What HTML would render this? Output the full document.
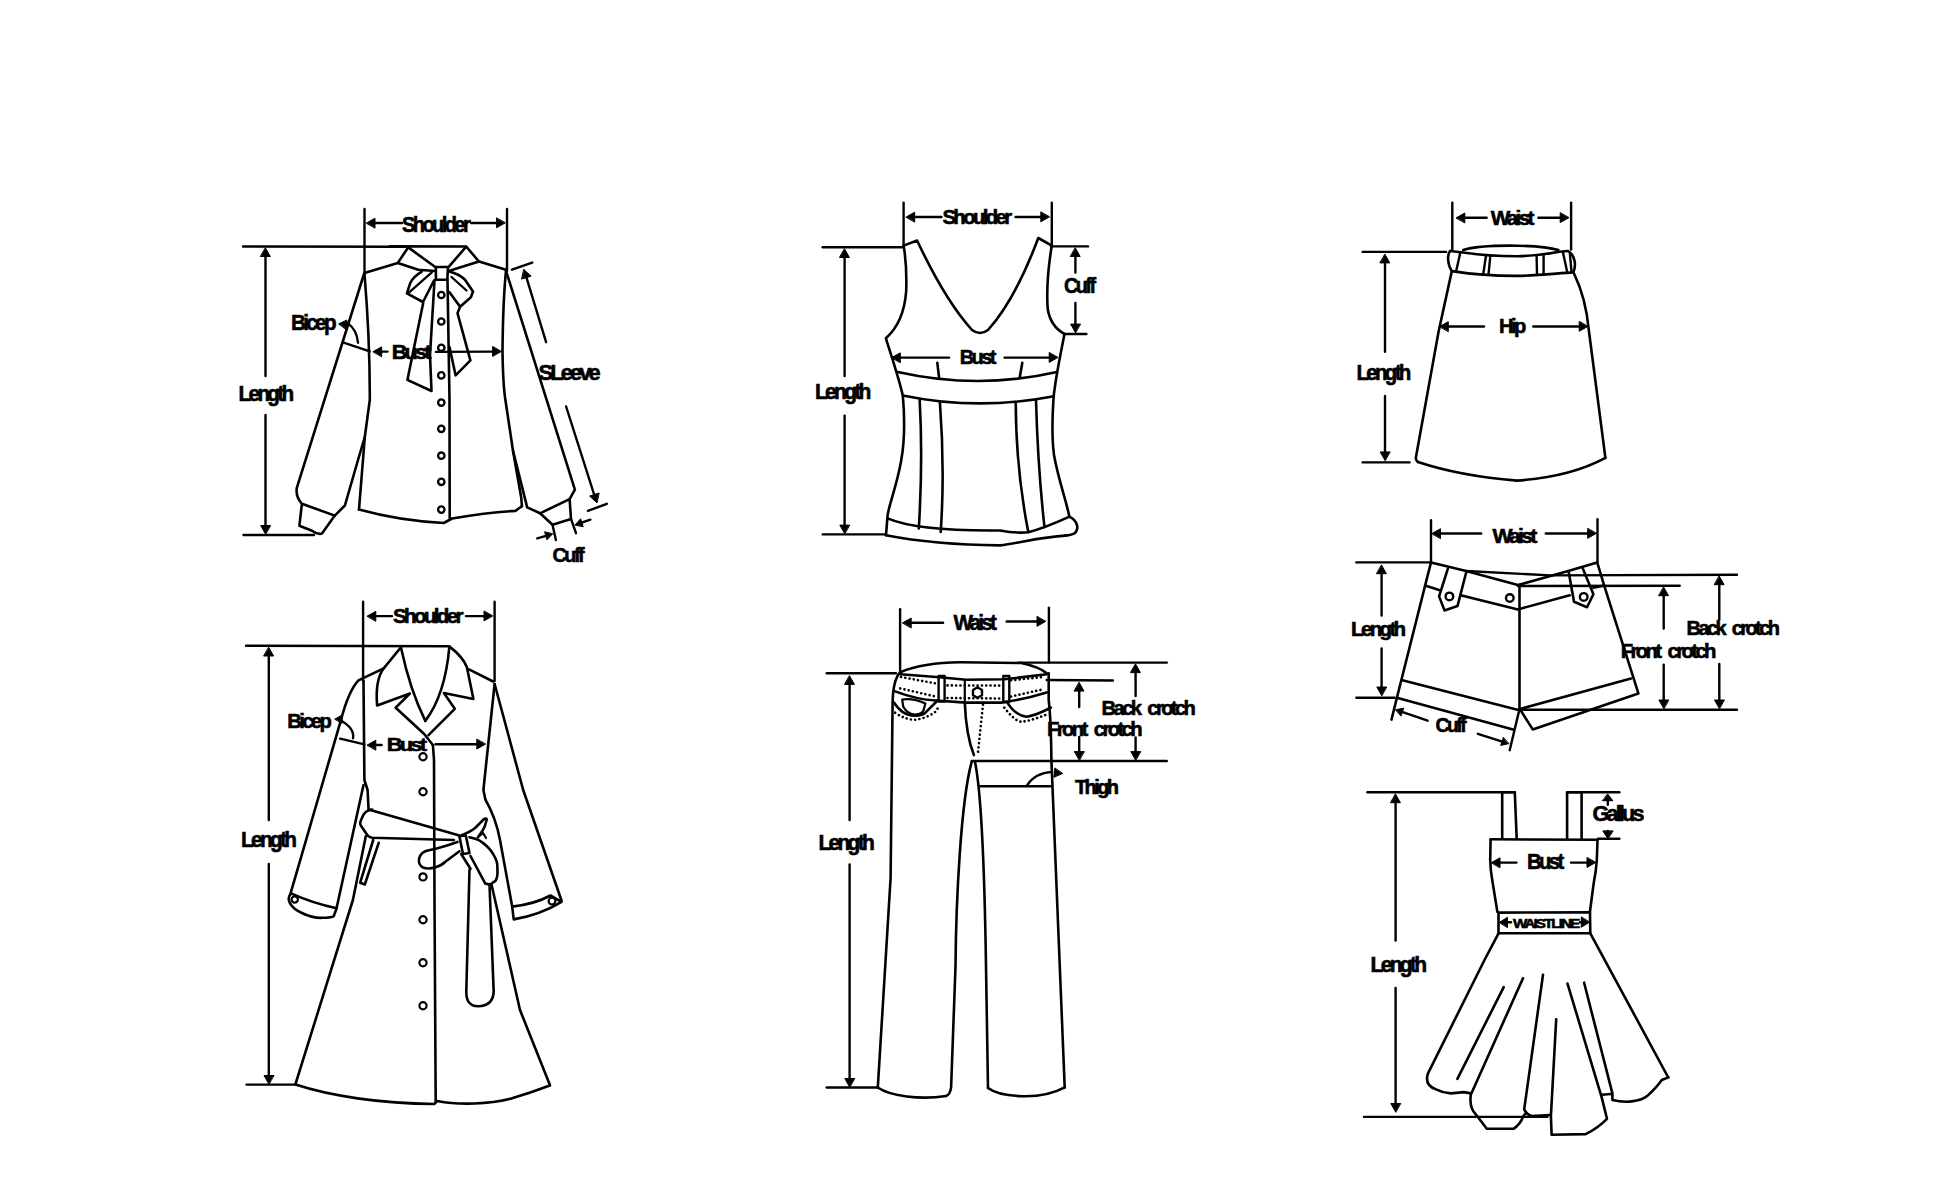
<!DOCTYPE html>
<html><head><meta charset="utf-8"><style>
html,body{margin:0;padding:0;background:#fff;width:1946px;height:1187px;overflow:hidden}
svg{display:block}
path,circle{fill:none;stroke:#000;stroke-linecap:round;stroke-linejoin:round}
path.f{fill:#000;stroke:#000;stroke-width:1}
text{font-family:"Liberation Sans",sans-serif;font-weight:bold;fill:#000}
</style></head><body>
<svg width="1946" height="1187" viewBox="0 0 1946 1187">
<path d="M364.5,209L364.5,273" stroke-width="2.4"/>
<path d="M507,209L507,271" stroke-width="2.4"/>
<path d="M402,223L371.6,223.0" stroke-width="2.4"/>
<path class="f" d="M366.5,223.0L375.0,218.2L375.0,227.8Z"/>
<path d="M471,223L499.9,223.0" stroke-width="2.4"/>
<path class="f" d="M505.0,223.0L496.5,227.8L496.5,218.2Z"/>
<text x="402.00" y="231.5" font-size="22.5" letter-spacing="-2.92" textLength="66.12" lengthAdjust="spacingAndGlyphs" stroke="#000" stroke-width="0.6">Shoulder</text>
<path d="M243,246.5L405,246.8" stroke-width="2.4"/>
<path d="M265.5,376L265.5,253.1" stroke-width="2.4"/>
<path class="f" d="M265.5,248.0L270.3,256.5L260.7,256.5Z"/>
<path d="M265.5,415L265.5,528.9" stroke-width="2.4"/>
<path class="f" d="M265.5,534.0L260.7,525.5L270.3,525.5Z"/>
<path d="M243.5,535L314,535" stroke-width="2.4"/>
<text x="238.60" y="401.0" font-size="21.8" letter-spacing="-2.83" textLength="52.89" lengthAdjust="spacingAndGlyphs" stroke="#000" stroke-width="0.6">Length</text>
<path d="M390,246.4 L466.2,246.5 L479,261.6 L506,269.7" stroke-width="2.6"/>
<path d="M408.2,247.4 L397.8,262.9 L364.5,273" stroke-width="2.6"/>
<path d="M408.2,247.4 L435.9,267.5" stroke-width="2.6"/>
<path d="M466.2,246.7 L448.7,266.8" stroke-width="2.6"/>
<path d="M435.9,267 L448,267 L447.3,279.8 L435.9,279.8 Z" stroke-width="2.6"/>
<path d="M397.8,262.9 L418.3,269.7 L435,271" stroke-width="2.6"/>
<path d="M479,261.6 L457.4,268.3 L449,271" stroke-width="2.6"/>
<path d="M421.7,271.7 Q413,277 410.2,283.2 L406.9,293.3 L423,302 L434,280.5" stroke-width="2.6"/>
<path d="M408.9,292.6 L431.8,272.4" stroke-width="2.3"/>
<path d="M449.3,271.5 Q459,274 464.8,279.5 L473,291.5 L470.9,297.3 L460.1,306.8 L449.3,292" stroke-width="2.6"/>
<path d="M451.5,277 L466.5,290.5" stroke-width="2.3"/>
<path d="M423.2,303 L407.4,379.9 L431.5,391 L430,355 L434.5,280.5" stroke-width="2.6"/>
<path d="M460.1,306.8 L457.5,313.2 L470.4,360.4 L455.6,375.3 L449.5,347" stroke-width="2.6"/>
<path d="M447.5,279.8 L449.5,400 L449.7,518" stroke-width="2.6"/>
<circle cx="441.3" cy="295" r="3.2" stroke-width="2.3"/>
<circle cx="441.3" cy="321.5" r="3.2" stroke-width="2.3"/>
<circle cx="441.3" cy="347.8" r="3.2" stroke-width="2.3"/>
<circle cx="441.3" cy="375.4" r="3.2" stroke-width="2.3"/>
<circle cx="441.3" cy="402.6" r="3.2" stroke-width="2.3"/>
<circle cx="441.3" cy="428.8" r="3.2" stroke-width="2.3"/>
<circle cx="441.3" cy="455.7" r="3.2" stroke-width="2.3"/>
<circle cx="441.3" cy="481.8" r="3.2" stroke-width="2.3"/>
<circle cx="441.3" cy="509.6" r="3.2" stroke-width="2.3"/>
<path d="M364.5,274 Q370,340 369.8,400 L364.8,437 L359,509.6" stroke-width="2.6"/>
<path d="M359,509.6 Q400,521 443.8,523 L452,518.5 Q490,512 515.4,510.9 L521.9,506.2" stroke-width="2.6"/>
<path d="M506,270.8 Q503,300 502.5,351 Q503,385 505.4,400 L513,450.8 L521.3,498 L521.9,506.2" stroke-width="2.6"/>
<path d="M364,274 L296.8,487.8 Q295.5,497 301.9,503.8 L299.4,525.7 L312,530.8 Q318,535 322,533.5 L334.8,515.6 L301.9,503.8" stroke-width="2.6"/>
<path d="M334.8,515.6 L344.9,505.5 L358,460 L364.8,437" stroke-width="2.6"/>
<path d="M506,270.8 L574.9,489.7 L569.6,499.1 L540.1,513.3 L527.2,507.4 L513,450.8" stroke-width="2.6"/>
<path d="M540.1,513.3 L552.5,524.8 L571,518.9 L569.6,499.1" stroke-width="2.6"/>
<path d="M552.5,524.8L555.9,540" stroke-width="2.4"/>
<path d="M571,518.9L576,533.2" stroke-width="2.4"/>
<path d="M537.3,538.3L548.5,535.1" stroke-width="2.4"/>
<path class="f" d="M552.5,534.0L546.9,539.8L544.7,532.1Z"/>
<path d="M590.4,519.7L579.2,523.5" stroke-width="2.4"/>
<path class="f" d="M575.2,524.8L580.6,518.8L583.1,526.4Z"/>
<text x="552.60" y="561.9" font-size="21.1" letter-spacing="-2.74" textLength="29.40" lengthAdjust="spacingAndGlyphs" stroke="#000" stroke-width="0.6">Cuff</text>
<path d="M512,269.6L532.2,262.6" stroke-width="2.4"/>
<path d="M546.1,342.2L525.5,274.4" stroke-width="2.4"/>
<path class="f" d="M524.0,269.5L531.1,276.2L521.9,279.0Z"/>
<path d="M566.1,406.5L595.2,497.8" stroke-width="2.4"/>
<path class="f" d="M596.8,502.7L589.6,496.1L598.8,493.1Z"/>
<path d="M587.9,510.9L606.8,503.8" stroke-width="2.4"/>
<text x="538.60" y="380.1" font-size="21.9" letter-spacing="-2.85" textLength="59.26" lengthAdjust="spacingAndGlyphs" stroke="#000" stroke-width="0.6">SLeeve</text>
<path d="M347.7,323.1 Q357,330 358,342.7" stroke-width="2.4"/>
<path class="f" d="M339.0,323.8L346.9,320.0L346.0,329.1Z"/>
<text x="291.00" y="330.3" font-size="22.8" letter-spacing="-2.96" textLength="42.85" lengthAdjust="spacingAndGlyphs" stroke="#000" stroke-width="0.6">Bicep</text>
<path d="M343.6,342.7L369.8,351.4" stroke-width="2.4"/>
<path d="M387.5,351.6L378.3,351.6" stroke-width="2.4"/>
<path class="f" d="M373.2,351.6L381.7,346.8L381.7,356.4Z"/>
<text x="391.80" y="359.2" font-size="19.7" letter-spacing="-2.56" textLength="36.78" lengthAdjust="spacingAndGlyphs" stroke="#000" stroke-width="0.6">Bust</text>
<path d="M436,351.9L496.0,351.6" stroke-width="2.4"/>
<path class="f" d="M501.1,351.6L492.6,356.4L492.6,346.8Z"/>
<path d="M363.1,601.8L363.1,681" stroke-width="2.4"/>
<path d="M494.6,601.8L494.6,681" stroke-width="2.4"/>
<path d="M392,616.1L372.4,616.1" stroke-width="2.4"/>
<path class="f" d="M367.3,616.1L375.8,611.3L375.8,620.9Z"/>
<path d="M465.9,616.1L487.4,616.1" stroke-width="2.4"/>
<path class="f" d="M492.5,616.1L484.0,620.9L484.0,611.3Z"/>
<text x="393.00" y="622.9" font-size="21.1" letter-spacing="-2.74" textLength="67.90" lengthAdjust="spacingAndGlyphs" stroke="#000" stroke-width="0.6">Shoulder</text>
<path d="M246,645.8L449,646.2" stroke-width="2.4"/>
<path d="M268.8,820L268.8,652.6" stroke-width="2.4"/>
<path class="f" d="M268.8,647.5L273.6,656.0L264.0,656.0Z"/>
<path d="M268.8,864L268.8,1078.9" stroke-width="2.4"/>
<path class="f" d="M268.8,1084.0L264.0,1075.5L273.6,1075.5Z"/>
<path d="M246.5,1084.6L295.5,1084.6" stroke-width="2.4"/>
<text x="241.00" y="846.6" font-size="22.4" letter-spacing="-2.91" textLength="53.23" lengthAdjust="spacingAndGlyphs" stroke="#000" stroke-width="0.6">Length</text>
<path d="M401.2,647 L383.7,668.3 Q375,680 377.1,705.5 L409.9,693.5 L395.7,707.7 L424.2,734 L432.9,745" stroke-width="2.6"/>
<path d="M401.2,648.6 Q410,690 425.3,720.9" stroke-width="2.6"/>
<path d="M449.3,647.5 Q445,695 425.3,720.9" stroke-width="2.6"/>
<path d="M449.3,646.4 Q463,657 466.9,667.2 L473.4,699 L443.9,693 L454.8,708.8 L428.5,735.1" stroke-width="2.6"/>
<path d="M383.7,668.3 L358.5,680.4 Q349,690 341,719.8 L290.2,894.6" stroke-width="2.6"/>
<path d="M469,669.4 L493.1,681.5" stroke-width="2.6"/>
<path d="M363.5,681 L364.4,780 L367.6,790 L368.5,808.5" stroke-width="2.6"/>
<path d="M363.5,785 L336.6,908" stroke-width="2.6"/>
<path d="M290.7,893.9 C286,899 290,908 301.9,913 C310,917 318,918 322.6,917.8 Q332,917.5 333.7,916.2 L336.1,909.8 L336.6,908" stroke-width="2.6"/>
<path d="M292.3,893.9 Q312,903 336.6,908.2" stroke-width="2.6"/>
<circle cx="294.7" cy="899.5" r="3.2" stroke-width="2.2"/>
<path d="M339.5,719.7 Q355,728 353,738.3" stroke-width="2.4"/>
<path class="f" d="M335.0,719.0L342.0,715.0L342.0,723.0Z"/>
<text x="287.20" y="728.0" font-size="20.8" letter-spacing="-2.71" textLength="42.02" lengthAdjust="spacingAndGlyphs" stroke="#000" stroke-width="0.6">Bicep</text>
<path d="M340.1,738.6L364.4,744.3" stroke-width="2.4"/>
<path d="M381.6,745L372.4,745.0" stroke-width="2.4"/>
<path class="f" d="M367.3,745.0L375.8,740.2L375.8,749.8Z"/>
<text x="386.80" y="750.5" font-size="18.2" letter-spacing="-2.37" textLength="37.31" lengthAdjust="spacingAndGlyphs" stroke="#000" stroke-width="0.6">Bust</text>
<path d="M435.6,744.2L480.2,744.2" stroke-width="2.4"/>
<path class="f" d="M485.3,744.2L476.8,749.0L476.8,739.4Z"/>
<path d="M432.9,745 L434,760 L434.5,900 L435.7,1101.7" stroke-width="2.6"/>
<circle cx="423" cy="756.8" r="3.6" stroke-width="2.2"/>
<circle cx="423" cy="791.8" r="3.6" stroke-width="2.2"/>
<circle cx="423" cy="876.9" r="3.6" stroke-width="2.2"/>
<circle cx="423" cy="919.8" r="3.6" stroke-width="2.2"/>
<circle cx="423" cy="962.8" r="3.6" stroke-width="2.2"/>
<circle cx="423" cy="1005.8" r="3.6" stroke-width="2.2"/>
<path d="M494.6,684 L483.4,790 L485.3,799.3" stroke-width="2.6"/>
<path d="M494.6,684 L523.2,790 L561.5,900.5" stroke-width="2.6"/>
<path d="M485.3,799.3 Q496,818 500,840 L512.2,906.6" stroke-width="2.6"/>
<path d="M512.2,906.6 L513.7,919.4 Q540,915 561.5,901.9 L550.4,895.5 Q535,904 512.2,906.6" stroke-width="2.6"/>
<circle cx="552" cy="901.1" r="3.4" stroke-width="2.2"/>
<path d="M372.2,809.5 Q365,810 362,817.8 Q359,824 361.1,826 L367.6,835.4 Q370,837.5 372.2,837.7 L453.8,840" stroke-width="2.6"/>
<path d="M368.5,809.5 L459.4,835.4" stroke-width="2.6"/>
<path d="M373.2,840 L360.2,882.7 L364.8,884.5 L378.7,842.8" stroke-width="2.6"/>
<path d="M459.4,836.3 L465.8,835.4 L469.5,853 L463,854 Z" stroke-width="2.6"/>
<path d="M457.5,841.9 Q440,848 428.8,850.2 C418,852 416,864 423,867.5 C430,870 440,867 445,862 L459.4,851.2" stroke-width="2.6"/>
<path d="M461.2,835.4 Q470,832 475.1,828 Q481,822 484.4,818.7 Q488,818 486.2,821.5 Q485,827 482.5,830.8 L477.9,837.3" stroke-width="2.6"/>
<path d="M478.8,836.3 L483,833 L486,838" stroke-width="2.2"/>
<path d="M469.5,837.3 Q478,839 481.6,841.9 Q490,848 493.6,854.9 Q498,862 497.4,868.8 Q498,877 495.5,880.8 L490,884.5 L485.3,883.6 L470.5,856" stroke-width="2.6"/>
<path d="M461.2,854 L470.5,868.8" stroke-width="2.6"/>
<path d="M469.5,869.5 L466.3,991.6 Q466,1006 477.9,1006.3 Q493,1006 493.7,991.6 L489.5,884.5" stroke-width="2.6"/>
<path d="M491.5,884.5 L520,1010 L549.9,1085" stroke-width="2.6"/>
<path d="M365.8,836.3 L352.9,900 L295.5,1084" stroke-width="2.6"/>
<path d="M295.5,1084.6 C330,1096 380,1103.5 434.2,1104 L437.2,1101 C460,1105.5 490,1104 511.2,1098.6 Q530,1093 549.8,1085.5" stroke-width="2.6"/>
<path d="M903.6,202.6L903.6,245.6" stroke-width="2.4"/>
<path d="M1051.8,202.6L1051.8,245.6" stroke-width="2.4"/>
<path d="M941.5,217L911.3,217.0" stroke-width="2.4"/>
<path class="f" d="M906.2,217.0L914.7,212.2L914.7,221.8Z"/>
<path d="M1015.6,217L1044.2,217.0" stroke-width="2.4"/>
<path class="f" d="M1049.3,217.0L1040.8,221.8L1040.8,212.2Z"/>
<text x="942.40" y="223.7" font-size="21.1" letter-spacing="-2.74" textLength="67.11" lengthAdjust="spacingAndGlyphs" stroke="#000" stroke-width="0.6">Shoulder</text>
<path d="M822.7,247.3L902.8,247.3" stroke-width="2.4"/>
<path d="M844.6,376L844.6,254.1" stroke-width="2.4"/>
<path class="f" d="M844.6,249.0L849.4,257.5L839.8,257.5Z"/>
<path d="M844.6,415.6L844.6,528.5" stroke-width="2.4"/>
<path class="f" d="M844.6,533.6L839.8,525.1L849.4,525.1Z"/>
<path d="M822.8,534.4L884.3,534.4" stroke-width="2.4"/>
<text x="815.00" y="399.0" font-size="21.4" letter-spacing="-2.78" textLength="53.65" lengthAdjust="spacingAndGlyphs" stroke="#000" stroke-width="0.6">Length</text>
<path d="M903.6,245.6 L917.1,240.5 Q945,300 972,330 Q980,336 988,330 Q1015,300 1038.3,238 L1051.8,245.6" stroke-width="2.6"/>
<path d="M903.6,245.6 Q907,265 906.2,291 Q904,322 885.9,338.3 C891,355 898,375 902.8,395.4 C905,420 904,445 901.1,461.1 C897,485 889,505 887.6,515.1 L886,535.3" stroke-width="2.6"/>
<path d="M1051.8,245.6 Q1046,280 1047.6,308 Q1050,326 1064.5,334 C1061,352 1056,375 1053.7,396.2 C1052,420 1052,440 1054,455 C1058,478 1066,500 1069.4,516.7" stroke-width="2.6"/>
<path d="M1051,246.4L1088,246.4" stroke-width="2.4"/>
<path d="M1064.5,334L1086.4,334" stroke-width="2.4"/>
<path d="M1075.4,272.6L1075.4,253.1" stroke-width="2.4"/>
<path class="f" d="M1075.4,248.0L1080.2,256.5L1070.6,256.5Z"/>
<path d="M1075.4,302.9L1075.4,327.5" stroke-width="2.4"/>
<path class="f" d="M1075.4,332.6L1070.6,324.1L1080.2,324.1Z"/>
<text x="1064.00" y="293.3" font-size="21.9" letter-spacing="-2.85" textLength="29.43" lengthAdjust="spacingAndGlyphs" stroke="#000" stroke-width="0.6">Cuff</text>
<path d="M949.1,357.6L896.9,357.6" stroke-width="2.4"/>
<path class="f" d="M891.8,357.6L900.3,352.8L900.3,362.4Z"/>
<path d="M1004.6,357.6L1052.6,357.6" stroke-width="2.4"/>
<path class="f" d="M1057.7,357.6L1049.2,362.4L1049.2,352.8Z"/>
<text x="959.80" y="364.4" font-size="21.1" letter-spacing="-2.74" textLength="33.93" lengthAdjust="spacingAndGlyphs" stroke="#000" stroke-width="0.6">Bust</text>
<path d="M897.7,372 Q978,390 1056.9,372" stroke-width="2.6"/>
<path d="M937.3,362.7 L939,377" stroke-width="2.6"/>
<path d="M1022.3,362.7 L1019.8,377" stroke-width="2.6"/>
<path d="M902.8,395.4 Q978,411 1053.7,396.2" stroke-width="2.6"/>
<path d="M919.7,400.5 Q923,460 918.8,528.5" stroke-width="2.6"/>
<path d="M939.9,402.1 Q945,470 940.7,532" stroke-width="2.6"/>
<path d="M1015.7,402.1 Q1016,470 1028.3,532" stroke-width="2.6"/>
<path d="M1036,400.5 Q1038,470 1044.5,527.2" stroke-width="2.6"/>
<path d="M887.6,518.4 C910,528 950,531 1000,530.5 Q1016,533.5 1028.3,532.2 C1045,528 1060,521 1069.4,516.7 C1078,521 1079,529 1075,533 Q1072,535 1065.4,535.6" stroke-width="2.6"/>
<path d="M886,535.3 C920,542 960,545 1000,545.4 C1020,543 1040,537 1065.4,535.6" stroke-width="2.6"/>
<path d="M900.1,609.3L900.1,670.8" stroke-width="2.4"/>
<path d="M1048.9,607.6L1048.9,662.4" stroke-width="2.4"/>
<path d="M943.1,622.8L907.8,622.8" stroke-width="2.4"/>
<path class="f" d="M902.7,622.8L911.2,618.0L911.2,627.6Z"/>
<path d="M1006.7,621.5L1040.4,621.5" stroke-width="2.4"/>
<path class="f" d="M1045.5,621.5L1037.0,626.3L1037.0,616.7Z"/>
<text x="953.40" y="630.4" font-size="22.2" letter-spacing="-2.89" textLength="40.85" lengthAdjust="spacingAndGlyphs" stroke="#000" stroke-width="0.6">Waist</text>
<path d="M826.8,673.3L895.9,673.3" stroke-width="2.4"/>
<path d="M849.6,820L849.6,681.0" stroke-width="2.4"/>
<path class="f" d="M849.6,675.9L854.4,684.4L844.8,684.4Z"/>
<path d="M849.6,864.5L849.6,1081.9" stroke-width="2.4"/>
<path class="f" d="M849.6,1087.0L844.8,1078.5L854.4,1078.5Z"/>
<path d="M826.7,1087.5L878.1,1087.5" stroke-width="2.4"/>
<text x="818.40" y="849.5" font-size="21.5" letter-spacing="-2.80" textLength="53.65" lengthAdjust="spacingAndGlyphs" stroke="#000" stroke-width="0.6">Length</text>
<path d="M1018,662.6L1166.8,662.6" stroke-width="2.4"/>
<path d="M1046.7,680L1112.9,680.5" stroke-width="2.4"/>
<path d="M971.7,761L1166.8,761" stroke-width="2.4"/>
<path d="M1079.2,707L1079.2,687.7" stroke-width="2.4"/>
<path class="f" d="M1079.2,682.6L1084.0,691.1L1074.4,691.1Z"/>
<path d="M1079.2,737L1079.2,755.0" stroke-width="2.4"/>
<path class="f" d="M1079.2,760.1L1074.4,751.6L1084.0,751.6Z"/>
<path d="M1135.6,696.1L1135.6,669.2" stroke-width="2.4"/>
<path class="f" d="M1135.6,664.1L1140.4,672.6L1130.8,672.6Z"/>
<path d="M1135.6,737.4L1135.6,755.0" stroke-width="2.4"/>
<path class="f" d="M1135.6,760.1L1130.8,751.6L1140.4,751.6Z"/>
<text x="1101.60" y="714.6" font-size="21.0" letter-spacing="-2.73" textLength="91.63" lengthAdjust="spacingAndGlyphs" stroke="#000" stroke-width="0.6" word-spacing="5.2">Back crotch</text>
<text x="1047.00" y="735.7" font-size="21.1" letter-spacing="-2.74" textLength="93.03" lengthAdjust="spacingAndGlyphs" stroke="#000" stroke-width="0.6" word-spacing="5.3">Front crotch</text>
<path d="M900.2,672.2 C920,664 940,662.5 960,662.3 L1021.4,663 C1035,666 1043,670 1046.7,673.2" stroke-width="2.6"/>
<path d="M900.2,674.3 L939.6,677.3 L965.9,679.8 L1004.3,679.3 L1046.7,674.3" stroke-width="2.6"/>
<path d="M895.1,691.4 C910,697 925,700 935.5,700.5 L965.9,702.6 L1001.2,702.6 C1020,700 1035,696 1046.7,692.4" stroke-width="2.6"/>
<path d="M938.6,676 L944.6,676 L944.6,701.5 L938.6,701.5 Z" stroke-width="2.4"/>
<path d="M1003.3,676 L1009.3,676 L1009.3,702 L1003.3,702 Z" stroke-width="2.4"/>
<path d="M964.8,680 L964.8,702.6" stroke-width="2.2"/>
<path d="M977.5,687.3 L982,690 L982,695.2 L977.5,697.8 L973,695.2 L973,690 Z" stroke-width="2.4"/>
<path d="M900.2,672.2 Q893,680 892.6,702.8 L890.6,878 L877.8,1087.5" stroke-width="2.6"/>
<path d="M894.1,702.6 C900,712 908,716 915.3,715.7 C920,715.5 924,714 925.4,712.7 L937.6,700.5" stroke-width="2.6"/>
<path d="M902.2,699.5 L903.2,706.6 C906,712 911,714.5 915.3,714.7 C920,714 923,712 923.4,710.6 L925.4,703.6 C918,700 909,698.5 902.2,699.5" stroke-width="2.2"/>
<path d="M1007.3,702.6 C1012,710 1019,716 1026.5,716.7 C1035,716 1044,711 1050.8,707.6" stroke-width="2.6"/>
<path d="M895.1,712.7 C903,718 910,720 915.3,719.7 C922,719 930,716 935.5,711.7 L939.6,705.6" stroke-width="2.6" stroke-dasharray="0.1,4.2" stroke-linecap="round"/>
<path d="M901,677 L935.5,683.4" stroke-width="2.6" stroke-dasharray="0.1,4.2" stroke-linecap="round"/>
<path d="M900.2,688.4 L935.5,696.5" stroke-width="2.6" stroke-dasharray="0.1,4.2" stroke-linecap="round"/>
<path d="M947.5,685.4 L1000,685.6" stroke-width="2.6" stroke-dasharray="0.1,4.2" stroke-linecap="round"/>
<path d="M947.5,698 L1000,698.5" stroke-width="2.6" stroke-dasharray="0.1,4.2" stroke-linecap="round"/>
<path d="M1011,680.3 L1043,677" stroke-width="2.6" stroke-dasharray="0.1,4.2" stroke-linecap="round"/>
<path d="M1011,696.5 L1042.7,689.4" stroke-width="2.6" stroke-dasharray="0.1,4.2" stroke-linecap="round"/>
<path d="M1004.3,707.6 C1010,715 1016,721 1021.4,721.8 C1030,721 1040,717 1048.7,713.7" stroke-width="2.6" stroke-dasharray="0.1,4.2" stroke-linecap="round"/>
<path d="M983,704.6 L978,752.1" stroke-width="2.6" stroke-dasharray="0.1,4.2" stroke-linecap="round"/>
<path d="M964.8,702.6 Q966,735 973.9,755.1" stroke-width="2.6"/>
<path d="M971.7,761.8 C961,800 956,900 955.5,966.5 L951.1,1087.4 Q950,1095 946,1096" stroke-width="2.6"/>
<path d="M877.8,1087.5 C890,1096 920,1100 946,1096" stroke-width="2.6"/>
<path d="M975,762 C983,800 985,900 986,966 L988,1088" stroke-width="2.6"/>
<path d="M988,1088 C1000,1097 1040,1101 1064.7,1087.4" stroke-width="2.6"/>
<path d="M1048.7,673.2 L1048.7,700 Q1051,720 1051.4,760 L1064.7,1087.4" stroke-width="2.6"/>
<path d="M980.2,786.2L1050.5,786.2" stroke-width="2.4"/>
<path d="M1027,785.4 Q1035,773 1052,771.9" stroke-width="2.4"/>
<path class="f" d="M1062.3,773.6L1053.9,777.3L1054.8,768.3Z"/>
<text x="1075.00" y="794.0" font-size="19.4" letter-spacing="-2.53" textLength="41.42" lengthAdjust="spacingAndGlyphs" stroke="#000" stroke-width="0.6">Thigh</text>
<path d="M1452.3,202.6L1452.3,250" stroke-width="2.4"/>
<path d="M1571.1,202.6L1571.1,249.5" stroke-width="2.4"/>
<path d="M1486.6,217.8L1461.4,217.8" stroke-width="2.4"/>
<path class="f" d="M1456.3,217.8L1464.8,213.0L1464.8,222.6Z"/>
<path d="M1538.4,217.8L1563.6,217.8" stroke-width="2.4"/>
<path class="f" d="M1568.7,217.8L1560.2,222.6L1560.2,213.0Z"/>
<text x="1490.80" y="225.4" font-size="19.3" letter-spacing="-2.51" textLength="40.86" lengthAdjust="spacingAndGlyphs" stroke="#000" stroke-width="0.6">Waist</text>
<path d="M1362.7,251.9L1446.1,251.9" stroke-width="2.4"/>
<path d="M1385,351.7L1385.0,259.5" stroke-width="2.4"/>
<path class="f" d="M1385.0,254.4L1389.8,262.9L1380.2,262.9Z"/>
<path d="M1385,396L1385.0,455.3" stroke-width="2.4"/>
<path class="f" d="M1385.0,460.4L1380.2,451.9L1389.8,451.9Z"/>
<path d="M1362.7,462.4L1409.5,462.4" stroke-width="2.4"/>
<text x="1356.40" y="380.0" font-size="21.7" letter-spacing="-2.82" textLength="52.31" lengthAdjust="spacingAndGlyphs" stroke="#000" stroke-width="0.6">Length</text>
<path d="M1463.2,250.1 C1475,246 1500,245.5 1517.4,245.7 C1535,246 1550,247.5 1558.4,250.1" stroke-width="2.6"/>
<path d="M1450.1,251 L1465,252.7 C1480,255 1500,256.2 1517.4,256.2 C1535,256 1550,253.5 1559.3,251.8 L1568,251" stroke-width="2.6"/>
<path d="M1450.1,251 C1447,255 1447.5,265 1451.8,271.1 C1470,274 1495,276 1517.4,275.9 C1540,275.5 1560,273 1573.3,272.4 C1576,266 1576,256 1568,251" stroke-width="2.6"/>
<path d="M1460.1,253.6 L1456.2,271.1" stroke-width="2.4"/>
<path d="M1485.9,256.2 L1483.3,273.7" stroke-width="2.4"/>
<path d="M1490.3,256.2 L1488.5,274.6" stroke-width="2.4"/>
<path d="M1536.6,255.3 L1537,273.7" stroke-width="2.4"/>
<path d="M1543.6,255 L1543.6,274" stroke-width="2.4"/>
<path d="M1562.8,251.8 L1567.2,271.9" stroke-width="2.4"/>
<path d="M1569.8,252.5 L1571.5,271.9" stroke-width="2.4"/>
<path d="M1451.8,271.1 L1438.6,331.5 L1415.8,458 Q1416,461 1418,462" stroke-width="2.6"/>
<path d="M1574.1,273.7 C1582,290 1587,310 1588.8,330 L1605.4,457.9" stroke-width="2.6"/>
<path d="M1418,462 Q1460,476 1516.9,480.6 Q1570,477 1605.4,457.9" stroke-width="2.6"/>
<path d="M1484,326.5L1444.9,326.5" stroke-width="2.4"/>
<path class="f" d="M1439.8,326.5L1448.3,321.7L1448.3,331.3Z"/>
<path d="M1533.3,326.5L1582.6,326.5" stroke-width="2.4"/>
<path class="f" d="M1587.7,326.5L1579.2,331.3L1579.2,321.7Z"/>
<text x="1499.00" y="332.5" font-size="20.7" letter-spacing="-2.69" textLength="24.60" lengthAdjust="spacingAndGlyphs" stroke="#000" stroke-width="0.6">Hip</text>
<path d="M1431,520.3L1431,562.4" stroke-width="2.4"/>
<path d="M1597.5,519.2L1597.5,562.4" stroke-width="2.4"/>
<path d="M1481.2,533.5L1437.1,533.5" stroke-width="2.4"/>
<path class="f" d="M1432.0,533.5L1440.5,528.7L1440.5,538.3Z"/>
<path d="M1545.8,533.5L1591.1,533.5" stroke-width="2.4"/>
<path class="f" d="M1596.2,533.5L1587.7,538.3L1587.7,528.7Z"/>
<text x="1492.40" y="542.5" font-size="20.4" letter-spacing="-2.65" textLength="42.06" lengthAdjust="spacingAndGlyphs" stroke="#000" stroke-width="0.6">Waist</text>
<path d="M1356.4,562.4L1431,562.4" stroke-width="2.4"/>
<path d="M1381.6,615.6L1381.6,570.3" stroke-width="2.4"/>
<path class="f" d="M1381.6,565.2L1386.4,573.7L1376.8,573.7Z"/>
<path d="M1381.6,648.4L1381.6,690.4" stroke-width="2.4"/>
<path class="f" d="M1381.6,695.5L1376.8,687.0L1386.4,687.0Z"/>
<path d="M1356.4,697.7L1394.7,697.7" stroke-width="2.4"/>
<text x="1351.00" y="635.5" font-size="20.1" letter-spacing="-2.62" textLength="52.47" lengthAdjust="spacingAndGlyphs" stroke="#000" stroke-width="0.6">Length</text>
<path d="M1431,562.4 L1466.1,571 L1517.9,585.1 L1566.5,571.6 L1597.2,562.4 L1604.2,585.6 L1638.4,693.4 L1532.7,729.4 L1519.6,708.6" stroke-width="2.6"/>
<path d="M1466.1,571 L1550.3,575.4 L1737,574.8" stroke-width="2.4"/>
<path d="M1517.9,586 L1679.7,585.8" stroke-width="2.4"/>
<path d="M1431,562.4 L1425.1,585.6 L1396.9,697.7 L1391.5,719.6" stroke-width="2.6"/>
<path d="M1425.1,585.6 L1439.1,590" stroke-width="2.6"/>
<path d="M1460.7,595.3 L1517.9,609.4 L1569.7,595.3" stroke-width="2.6"/>
<path d="M1593.4,587.8 L1604.2,585.6" stroke-width="2.6"/>
<path d="M1447.8,568.9 L1439.1,596.4 L1444.5,610.4 L1457.5,606.1 L1466.1,572.7" stroke-width="2.6"/>
<circle cx="1449.4" cy="596.4" r="3.8" stroke-width="2.4"/>
<circle cx="1509.8" cy="598" r="3.8" stroke-width="2.4"/>
<path d="M1568.6,571.6 L1574,601.8 L1587,607.2 L1593.4,594.2 L1582.7,568.3" stroke-width="2.6"/>
<circle cx="1583.7" cy="596.9" r="3.8" stroke-width="2.4"/>
<path d="M1519.5,585 L1519.5,708.6" stroke-width="2.6"/>
<path d="M1402.4,680.2 L1517.4,709.7" stroke-width="2.6"/>
<path d="M1396.9,697.7 L1513,729.4" stroke-width="2.6"/>
<path d="M1519.6,708.6 L1509.7,750.2" stroke-width="2.4"/>
<path d="M1427.6,720.7L1399.8,711.1" stroke-width="2.4"/>
<path class="f" d="M1395.8,709.7L1403.7,708.2L1401.1,715.8Z"/>
<path d="M1477.9,733.8L1504.6,742.4" stroke-width="2.4"/>
<path class="f" d="M1508.6,743.7L1500.7,745.4L1503.2,737.7Z"/>
<text x="1435.60" y="732.0" font-size="20.1" letter-spacing="-2.62" textLength="28.62" lengthAdjust="spacingAndGlyphs" stroke="#000" stroke-width="0.6">Cuff</text>
<path d="M1521.7,708.6 L1631,678.5" stroke-width="2.6"/>
<path d="M1521,709.8L1737,709.8" stroke-width="2.4"/>
<path d="M1663.7,628.5L1663.7,592.3" stroke-width="2.4"/>
<path class="f" d="M1663.7,587.2L1668.5,595.7L1658.9,595.7Z"/>
<path d="M1663.7,664.7L1663.7,703.4" stroke-width="2.4"/>
<path class="f" d="M1663.7,708.5L1658.9,700.0L1668.5,700.0Z"/>
<path d="M1719.3,619.2L1719.3,581.3" stroke-width="2.4"/>
<path class="f" d="M1719.3,576.2L1724.1,584.7L1714.5,584.7Z"/>
<path d="M1719.3,663.9L1719.3,703.4" stroke-width="2.4"/>
<path class="f" d="M1719.3,708.5L1714.5,700.0L1724.1,700.0Z"/>
<text x="1620.80" y="657.5" font-size="20.8" letter-spacing="-2.71" textLength="93.03" lengthAdjust="spacingAndGlyphs" stroke="#000" stroke-width="0.6" word-spacing="5.2">Front crotch</text>
<text x="1686.60" y="634.5" font-size="20.1" letter-spacing="-2.62" textLength="90.65" lengthAdjust="spacingAndGlyphs" stroke="#000" stroke-width="0.6" word-spacing="5.0">Back crotch</text>
<path d="M1367.4,792.3L1514.8,792.3" stroke-width="2.4"/>
<path d="M1395.6,940.6L1395.6,799.3" stroke-width="2.4"/>
<path class="f" d="M1395.6,794.2L1400.4,802.7L1390.8,802.7Z"/>
<path d="M1395.6,988L1395.6,1106.9" stroke-width="2.4"/>
<path class="f" d="M1395.6,1112.0L1390.8,1103.5L1400.4,1103.5Z"/>
<path d="M1364,1116.9L1547.4,1116.9" stroke-width="2.4"/>
<text x="1370.60" y="972.0" font-size="22.2" letter-spacing="-2.89" textLength="53.65" lengthAdjust="spacingAndGlyphs" stroke="#000" stroke-width="0.6">Length</text>
<path d="M1502.2,838.8 L1502.2,792.3 L1514.8,792.3 L1516.7,838.8" stroke-width="2.6"/>
<path d="M1567.1,838.8 L1567.1,792.3 L1581.6,792.3 L1581.6,838.8" stroke-width="2.6"/>
<path d="M1567.1,792.3L1619.4,792.3" stroke-width="2.4"/>
<path d="M1598,838.8L1619.4,838.8" stroke-width="2.4"/>
<path d="M1607.8,804.8L1607.8,798.1" stroke-width="2.4"/>
<path class="f" d="M1607.8,794.2L1612.8,800.7L1602.8,800.7Z"/>
<path d="M1607.8,831L1607.8,833.9" stroke-width="2.4"/>
<path class="f" d="M1607.8,838.4L1602.8,830.9L1612.8,830.9Z"/>
<text x="1592.60" y="821.3" font-size="21.2" letter-spacing="-2.76" textLength="48.95" lengthAdjust="spacingAndGlyphs" stroke="#000" stroke-width="0.6">Gallus</text>
<path d="M1490.6,839.3 L1597.5,839.8" stroke-width="2.6"/>
<path d="M1490.6,839.5 L1490.2,860.3 Q1490.5,870 1492.1,879.3 L1497.4,912" stroke-width="2.6"/>
<path d="M1597.5,840.2 L1596.8,860.3 Q1596,872 1593.7,883.1 L1589.9,912" stroke-width="2.6"/>
<path d="M1516.4,862.6L1496.6,862.6" stroke-width="2.4"/>
<path class="f" d="M1491.5,862.6L1500.0,857.8L1500.0,867.4Z"/>
<path d="M1571,862.6L1590.4,862.6" stroke-width="2.4"/>
<path class="f" d="M1595.5,862.6L1587.0,867.4L1587.0,857.8Z"/>
<text x="1527.00" y="868.5" font-size="21.9" letter-spacing="-2.85" textLength="34.59" lengthAdjust="spacingAndGlyphs" stroke="#000" stroke-width="0.6">Bust</text>
<path d="M1498.5,912.6 L1590,912.4 L1590.3,933.3 L1498.5,933.3 Z" stroke-width="2.6"/>
<path class="f" d="M1499.5,922.3L1507.5,917.3L1507.5,927.3Z"/>
<path d="M1506,922.3L1511,922.3" stroke-width="2.4"/>
<path class="f" d="M1589.3,922.3L1581.3,927.3L1581.3,917.3Z"/>
<path d="M1580,922.3L1583,922.3" stroke-width="2.4"/>
<text x="1513.00" y="927.8" font-size="13.6" letter-spacing="-1.77" textLength="65.09" lengthAdjust="spacingAndGlyphs" stroke="#000" stroke-width="0.6">WAISTLINE</text>
<path d="M1498.5,933.3 L1484.5,960 L1428,1073.4 Q1424,1085 1436,1089.4 Q1443,1093 1450.7,1093.4 L1464.1,1092.1 L1470.8,1093.4" stroke-width="2.6"/>
<path d="M1503.7,987.1 L1457.4,1078.8" stroke-width="2.6"/>
<path d="M1523,978.3 L1470.8,1094.7 Q1469,1108 1476.1,1114.8 L1486.8,1128.8 L1513.5,1128.8 Q1520,1125 1523.5,1116.1 L1525.5,1113.4" stroke-width="2.6"/>
<path d="M1543,974.8 L1524.2,1109.4 Q1527,1115 1532,1116 L1549.6,1115" stroke-width="2.6"/>
<path d="M1556.2,1019.4 L1550.9,1116.1 L1551.6,1134.8 L1585.7,1134.1 Q1598,1128 1607,1118.8 L1601.7,1097.4 L1567.5,983.6" stroke-width="2.6"/>
<path d="M1584.1,982.7 L1612.4,1093.4 L1612.4,1100.1 C1625,1103 1640,1102 1647.1,1096.1 Q1657,1087 1661.8,1080 L1668.5,1077.4" stroke-width="2.6"/>
<path d="M1590.3,933.3 L1668,1077" stroke-width="2.6"/>
<path d="M1601.7,1094.7 L1611,1094" stroke-width="2.6"/>
</svg></body></html>
